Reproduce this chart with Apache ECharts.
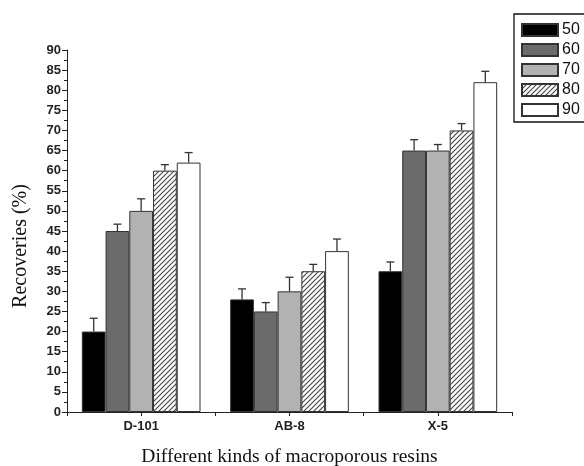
<!DOCTYPE html>
<html>
<head>
<meta charset="utf-8">
<script src="https://cdn.jsdelivr.net/npm/echarts@6/dist/echarts.min.js"></script>
<style>
html,body{margin:0;padding:0;background:#fff;}
#main{width:584px;height:466px;}
</style>
</head>
<body>
<div id="main"></div>
<script>
// categories and temperatures
var categories = ['D-101', 'AB-8', 'X-5'];
var temps = ['50', '60', '70', '80', '90'];
// recoveries (%) per temperature
var r50 = [20, 28, 35];
var r60 = [45, 25, 65];
var r70 = [50, 30, 65];
var r80 = [60, 35, 70];
var r90 = [62, 40, 82];
// upper error
var e50 = [3.3, 2.6, 2.3];
var e60 = [1.7, 2.2, 2.7];
var e70 = [3.0, 3.5, 1.5];
var e80 = [1.5, 1.7, 1.7];
var e90 = [2.5, 3.0, 2.7];
var yTicks = [0, 90, 5];

var values = [r50, r60, r70, r80, r90];
var errors = [e50, e60, e70, e80, e90];

// hatch pattern
var cv = document.createElement('canvas');
cv.width = 5; cv.height = 5;
var cx = cv.getContext('2d');
cx.fillStyle = '#fff';
cx.fillRect(0, 0, 5, 5);
cx.strokeStyle = '#444';
cx.lineWidth = 1.1;
cx.beginPath();
cx.moveTo(0, 5); cx.lineTo(5, 0);
cx.moveTo(-1, 1); cx.lineTo(1, -1);
cx.moveTo(4, 6); cx.lineTo(6, 4);
cx.stroke();

var fills = ['#000000', '#6b6b6b', '#b2b2b2', {image: cv, repeat: 'repeat'}, '#ffffff'];

var chart = echarts.init(document.getElementById('main'));

var series = [];
temps.forEach(function (t, i) {
  series.push({
    name: t,
    type: 'bar',
    barGap: '0%',
    barCategoryGap: '20%',
    data: values[i],
    itemStyle: {color: fills[i], borderColor: '#333', borderWidth: 1},
    z: 2
  });
});

// error bars
var errData = [];
temps.forEach(function (t, s) {
  categories.forEach(function (c, k) {
    errData.push([k, values[s][k], values[s][k] + errors[s][k], s]);
  });
});
series.push({
  type: 'custom',
  z: 3,
  data: errData,
  encode: {x: 0, y: [1, 2]},
  renderItem: function (params, api) {
    var k = api.value(0), s = api.value(3);
    var band = api.size([1, 0])[0];
    var bw = band * 0.8 / 5;
    var base = api.coord([k, api.value(1)]);
    var top = api.coord([k, api.value(2)]);
    var x = base[0] - band * 0.4 + bw * (s + 0.5);
    var st = {stroke: '#333', lineWidth: 1.3};
    return {
      type: 'group',
      children: [
        {type: 'line', shape: {x1: x, y1: base[1], x2: x, y2: top[1]}, style: st},
        {type: 'line', shape: {x1: x - 4, y1: top[1], x2: x + 4, y2: top[1]}, style: st}
      ]
    };
  }
});

var option = {
  backgroundColor: '#fff',
  animation: false,
  grid: {left: 67, right: 72, top: 50, bottom: 54, outerBoundsMode: 'none', containLabel: false},
  legend: {
    data: temps,
    orient: 'vertical',
    left: 514,
    top: 14,
    padding: [8, 20, 4, 7],
    icon: 'rect',
    itemWidth: 36,
    itemHeight: 12,
    itemGap: 4,
    borderColor: '#111',
    borderWidth: 1.3,
    textStyle: {fontFamily: 'Liberation Sans', fontSize: 16, color: '#111', padding: [0, 0, 0, -1]}
  },
  xAxis: [{
    type: 'category',
    data: categories,
    name: 'Different kinds of macroporous resins',
    nameLocation: 'middle',
    nameGap: 35,
    nameTextStyle: {fontFamily: 'Liberation Serif', fontSize: 19.5, color: '#111'},
    axisLine: {lineStyle: {color: '#222', width: 1}},
    axisTick: {show: true, length: 4, lineStyle: {color: '#222'}},
    axisLabel: {fontFamily: 'Liberation Sans', fontWeight: 'bold', fontSize: 13, color: '#222', margin: 8}
  }, {
    type: 'category',
    data: categories,
    position: 'bottom',
    axisLine: {show: false},
    axisTick: {show: true, alignWithLabel: true, length: 4, lineStyle: {color: '#222'}},
    axisLabel: {show: false}
  }],
  yAxis: {
    type: 'value',
    min: yTicks[0],
    max: yTicks[1],
    interval: yTicks[2],
    name: 'Recoveries (%)',
    nameLocation: 'middle',
    nameGap: 36,
    nameTextStyle: {fontFamily: 'Liberation Serif', fontSize: 20, color: '#111', padding: [0, 30, 0, 0]},
    axisLine: {show: true, lineStyle: {color: '#222', width: 1}},
    axisTick: {show: true, length: 5, lineStyle: {color: '#222'}},
    minorTick: {show: true, splitNumber: 2, length: 3, lineStyle: {color: '#222'}},
    splitLine: {show: false},
    axisLabel: {fontFamily: 'Liberation Sans', fontWeight: 'bold', fontSize: 13, color: '#222', margin: 6}
  },
  series: series
};
chart.setOption(option);
</script>
</body>
</html>
